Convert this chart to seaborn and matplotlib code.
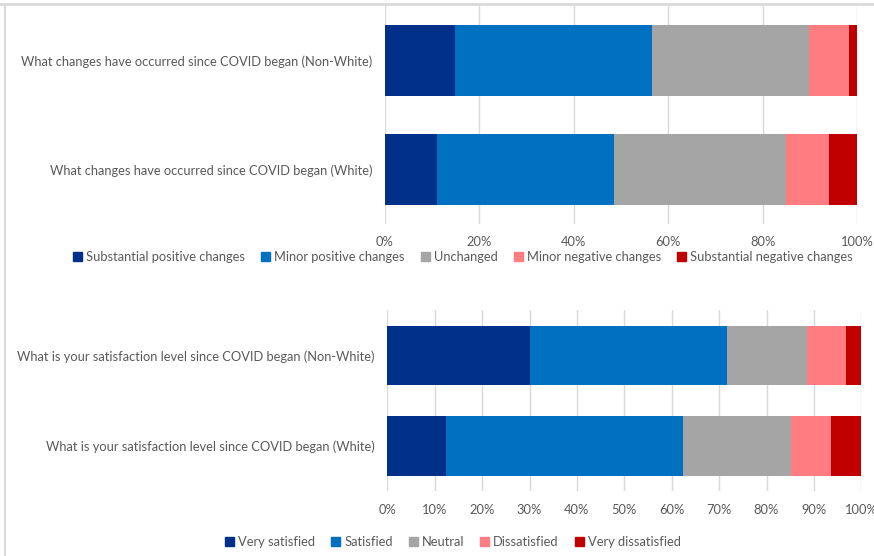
import numpy as np
import pandas as pd
import matplotlib.pyplot as plt
import matplotlib.patches as mpatches
from matplotlib.lines import Line2D
import seaborn as sns

# data (percent of respondents)
change_groups = ['What changes have occurred since COVID began (Non-White)',
                 'What changes have occurred since COVID began (White)']
change_labels = ['Substantial positive changes', 'Minor positive changes', 'Unchanged',
                 'Minor negative changes', 'Substantial negative changes']
change_nonwhite = [14.9, 41.7, 33.2, 8.4, 1.8]
change_white = [11.0, 37.6, 36.3, 9.2, 5.9]

satis_groups = ['What is your satisfaction level since COVID began (Non-White)',
                'What is your satisfaction level since COVID began (White)']
satis_labels = ['Very satisfied', 'Satisfied', 'Neutral', 'Dissatisfied', 'Very dissatisfied']
satis_nonwhite = [30.0, 41.7, 16.8, 8.3, 3.2]
satis_white = [12.4, 49.9, 22.9, 8.4, 6.4]

colors = ['#003087', '#0070C0', '#A5A5A5', '#FF7C80', '#C00000']
text_col = '#595959'
grid_col = '#D9D9D9'

sns.set_style('white')
plt.rcParams['font.family'] = ['Lato', 'DejaVu Sans']
plt.rcParams['font.size'] = 9.3

W, H = 874, 556
fig = plt.figure(figsize=(W / 100, H / 100), dpi=100)


def px_axes(x0, y0, x1, y1):
    return fig.add_axes([x0 / W, 1 - y1 / H, (x1 - x0) / W, (y1 - y0) / H])


def stacked(ax, groups, labels, first, second, step, legend_y, legend_x, colspace):
    df = pd.DataFrame({'group': np.repeat(groups, len(labels)),
                       'label': labels * 2,
                       'value': first + second})
    df['cum'] = df.groupby('group')['value'].cumsum()
    # draw the longest cumulative segment first so shorter ones sit on top
    for lab, col in reversed(list(zip(labels, colors))):
        sub = df[df['label'] == lab]
        sns.barplot(data=sub, x='cum', y='group', order=groups, color=col,
                    saturation=1, width=0.66, orient='h', linewidth=0, ax=ax, zorder=2)
    ax.set_xlim(0, 100)
    ax.set_ylim(1.5, -0.5)
    ticks = np.arange(0, 101, step)
    ax.set_xticks(ticks)
    ax.set_xticklabels([f'{t}%' for t in ticks], color=text_col)
    ax.tick_params(axis='x', length=0, pad=9)
    ax.tick_params(axis='y', length=0, pad=9, labelcolor=text_col)
    ax.set_xlabel('')
    ax.set_ylabel('')
    ax.grid(axis='x', color=grid_col, linewidth=1)
    ax.set_axisbelow(True)
    for s in ax.spines.values():
        s.set_visible(False)
    handles = [mpatches.Patch(color=c, label=l) for l, c in zip(labels, colors)]
    fig.legend(handles=handles, loc='center', bbox_to_anchor=(legend_x / W, 1 - legend_y / H),
               ncol=5, frameon=False, handlelength=0.7, handleheight=0.7,
               handletextpad=0.3, columnspacing=colspace, labelcolor=text_col)


ax1 = px_axes(384.7, 6, 857.3, 224)
stacked(ax1, change_groups, change_labels, change_nonwhite, change_white, 20, 257, 463, 1.25)

ax2 = px_axes(387.3, 310.25, 861.3, 491.25)
stacked(ax2, satis_groups, satis_labels, satis_nonwhite, satis_white, 10, 542, 453, 1.25)

# light chart-area border seen on the top and left edges
fig.add_artist(Line2D([0, 1], [1 - 4 / H, 1 - 4 / H], color=grid_col, linewidth=2))
fig.add_artist(Line2D([5 / W, 5 / W], [0, 1 - 4 / H], color=grid_col, linewidth=1.5))

fig.savefig('out.png', dpi=100)
